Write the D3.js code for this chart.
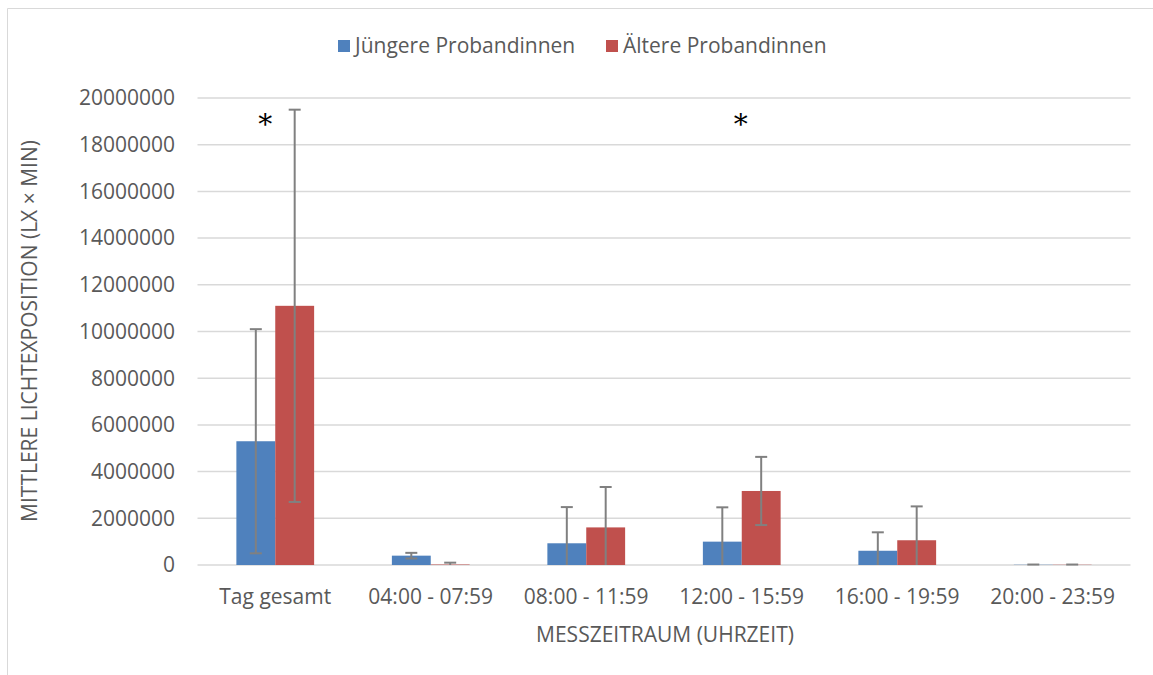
<!DOCTYPE html>
<html><head><meta charset="utf-8">
<script src="https://cdn.jsdelivr.net/npm/d3@7"></script>
<style>
html,body{margin:0;padding:0;background:#fff;}
text{font-family:"Open Sans",sans-serif;fill:#595959;}
</style></head>
<body><svg id="c" width="1153" height="675"></svg>
<script>
const categories = ["Tag gesamt","04:00 - 07:59","08:00 - 11:59","12:00 - 15:59","16:00 - 19:59","20:00 - 23:59"];
const seriesNames = ["Jüngere Probandinnen","Ältere Probandinnen"];
const youngValues = [5300000, 400000, 930000, 1000000, 610000, 10000];
const youngSD     = [4800000, 120000, 1550000, 1470000, 790000, 10000];
const olderValues = [11100000, 20000, 1610000, 3170000, 1060000, 10000];
const olderSD     = [8400000, 80000, 1730000, 1460000, 1450000, 10000];
const yTicks = [0,2000000,4000000,6000000,8000000,10000000,12000000,14000000,16000000,18000000,20000000];
const significant = ["Tag gesamt","12:00 - 15:59"];
const colors = ["#4f81bd","#c0504d"];

const FS = 21;
const svg = d3.select("#c");
svg.append("rect").attr("width",1153).attr("height",675).attr("fill","#fff");
svg.append("path").attr("d","M7.5,675 V8.5 H1153").attr("fill","none").attr("stroke","#d9d9d9").attr("stroke-width",1);

const x0 = d3.scaleBand().domain(categories).range([197.5,1130.5]).paddingInner(0).paddingOuter(0);
const x1 = d3.scaleBand().domain([0,1]).range([x0.bandwidth()/4, x0.bandwidth()*3/4]);
const y = d3.scaleLinear().domain([0,20000000]).range([565,98]);

svg.append("g").selectAll("line").data(yTicks).join("line")
  .attr("x1",197.5).attr("x2",1130.5)
  .attr("y1",d=>y(d)).attr("y2",d=>y(d))
  .attr("stroke","#d9d9d9").attr("stroke-width",1.5);

svg.append("g").selectAll("text").data(yTicks).join("text")
  .attr("x",175).attr("y",d=>y(d)).attr("dy","0.35em")
  .attr("text-anchor","end").attr("font-size",FS).text(d=>d3.format("d")(d));

svg.append("g").selectAll("text").data(categories).join("text")
  .attr("x",d=>x0(d)+x0.bandwidth()/2).attr("y",604)
  .attr("text-anchor","middle").attr("font-size",FS).text(d=>d);

const data = categories.map((c,i)=>({c, vals:[
  {s:0,v:youngValues[i],sd:youngSD[i]},
  {s:1,v:olderValues[i],sd:olderSD[i]}]}));

const g = svg.append("g").selectAll("g").data(data).join("g")
  .attr("transform",d=>`translate(${x0(d.c)},0)`);
g.selectAll("rect").data(d=>d.vals).join("rect")
  .attr("x",d=>x1(d.s)).attr("width",x1.bandwidth())
  .attr("y",d=>y(d.v)).attr("height",d=>y(0)-y(d.v))
  .attr("fill",d=>colors[d.s]);

const eb = g.selectAll("g.eb").data(d=>d.vals).join("g").attr("class","eb");
eb.each(function(d){
  const cx = x1(d.s)+x1.bandwidth()/2;
  const hi = d.v+d.sd, lo = Math.max(0,d.v-d.sd);
  const sel = d3.select(this);
  sel.append("line").attr("x1",cx).attr("x2",cx).attr("y1",y(hi)).attr("y2",y(lo))
    .attr("stroke","#808080").attr("stroke-width",2);
  sel.append("line").attr("x1",cx-6).attr("x2",cx+6).attr("y1",y(hi)).attr("y2",y(hi))
    .attr("stroke","#808080").attr("stroke-width",2);
  if (d.v-d.sd>0) sel.append("line").attr("x1",cx-6).attr("x2",cx+6).attr("y1",y(lo)).attr("y2",y(lo))
    .attr("stroke","#808080").attr("stroke-width",2);
});

svg.append("g").selectAll("text").data(significant).join("text")
  .attr("x",(d,i)=>x0(d)+x0.bandwidth()/2 + (i===0?-10:-1)).attr("y",134)
  .attr("text-anchor","middle").attr("font-size",28)
  .style("font-family","'DejaVu Serif',serif").style("fill","#000").text("*");

svg.append("text").attr("x",665).attr("y",642).attr("text-anchor","middle").attr("font-size",FS)
  .text("MESSZEITRAUM (UHRZEIT)");
svg.append("text").attr("transform","translate(37,331) rotate(-90)").attr("text-anchor","middle").attr("font-size",FS)
  .text("MITTLERE LICHTEXPOSITION (LX × MIN)");

const leg = svg.append("g");
const legX = [338,606];
seriesNames.forEach((n,i)=>{
  leg.append("rect").attr("x",legX[i]).attr("y",40).attr("width",12).attr("height",12).attr("fill",colors[i]);
  leg.append("text").attr("x",legX[i]+17).attr("y",46).attr("dy","0.35em").attr("font-size",FS).text(n);
});
</script></body></html>
